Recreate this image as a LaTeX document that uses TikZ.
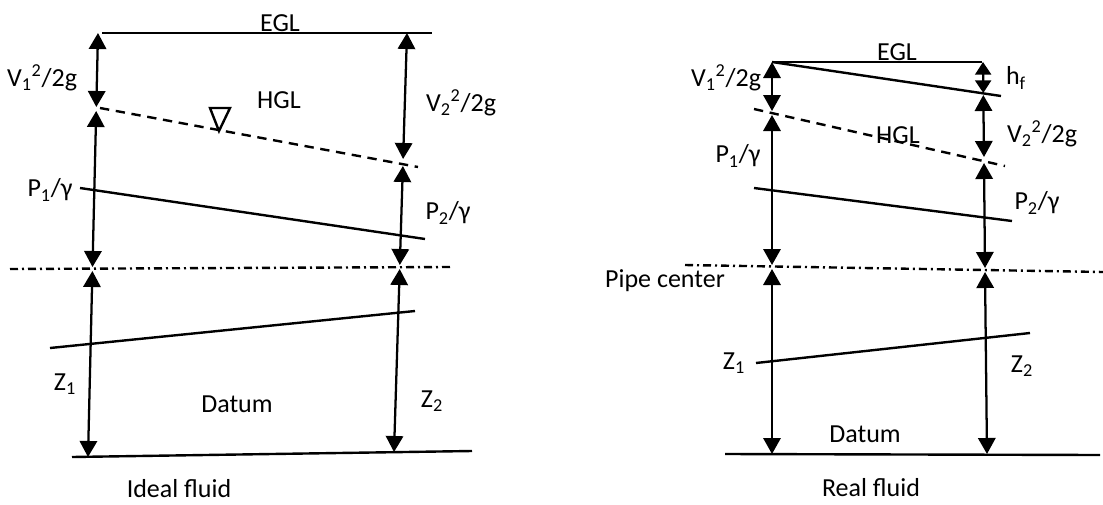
\documentclass[tikz,border=0pt]{standalone}
\usepackage{fontspec}
\setmainfont{Carlito}
\usetikzlibrary{arrows.meta}
\begin{document}
\begin{tikzpicture}[x=0.75pt,y=-0.75pt,
  ln/.style={line width=1.8pt},
  dim/.style={line width=1.7pt,{Triangle[length=12pt,width=13pt]}-{Triangle[length=12pt,width=13pt]}},
  dimsmall/.style={line width=1.7pt,{Triangle[length=9.5pt,width=12pt]}-{Triangle[length=9.5pt,width=12pt]}},
  hgl/.style={line width=1.8pt,dash pattern=on 7pt off 5pt},
  ctr/.style={line width=1.8pt,dash pattern=on 6pt off 3pt on 1.5pt off 3pt},
  lbl/.style={font=\fontsize{19.5}{22}\selectfont,inner sep=0pt}]
\useasboundingbox (0,0) rectangle (1103,504);
% ================= Ideal fluid =================
\coordinate (aE1) at (102,33);  \coordinate (aE2) at (432,33);
\coordinate (aH1) at (100,108); \coordinate (aH2) at (418,167);
\coordinate (aP1) at (80,188);  \coordinate (aP2) at (425,239);
\coordinate (aC1) at (10,269);  \coordinate (aC2) at (450,267);
\coordinate (aB1) at (50,348);  \coordinate (aB2) at (415,311);
\coordinate (aD1) at (72,457);  \coordinate (aD2) at (472,451);
\draw[ln] (aE1) -- (aE2);
\draw[hgl] (aH1) -- (aH2);
\draw[ln] (aP1) -- (aP2);
\draw[ctr] (aC1) -- (aC2);
\draw[ln] (aB1) -- (aB2);
\draw[ln] (aD1) -- (aD2);
\coordinate (t1) at (210,108); \coordinate (t2) at (230,108); \coordinate (t3) at (219,131);
\draw[line width=1.8pt,line join=miter] (t1) -- (t2) -- (t3) -- cycle;
% left column
\coordinate (la1) at (98,33);   \coordinate (la2) at (96.3,107);
\coordinate (la3) at (96.2,111);\coordinate (la4) at (92.5,267);
\coordinate (la5) at (92.4,271);\coordinate (la6) at (88,457);
\draw[dim] (la1) -- (la2);
\draw[dim] (la3) -- (la4);
\draw[dim] (la5) -- (la6);
% right column
\coordinate (ra1) at (407,33);   \coordinate (ra2) at (403.1,159);
\coordinate (ra3) at (402.9,166);\coordinate (ra4) at (399.8,265);
\coordinate (ra5) at (399.7,269);\coordinate (ra6) at (394,452);
\draw[dim] (ra1) -- (ra2);
\draw[dim] (ra3) -- (ra4);
\draw[dim] (ra5) -- (ra6);
% labels
\node[lbl] (aEGL) at (280,23) {EGL};
\node[lbl] (aHGL) at (279,100) {HGL};
\node[lbl] (aV1) at (42,78) {V\textsubscript{1}\textsuperscript{2}/2g};
\node[lbl] (aV2) at (461,103) {V\textsubscript{2}\textsuperscript{2}/2g};
\node[lbl] (aPg1) at (50,190) {P\textsubscript{1}/γ};
\node[lbl] (aPg2) at (448,213) {P\textsubscript{2}/γ};
\node[lbl] (aZ1) at (65,384) {Z\textsubscript{1}};
\node[lbl] (aZ2) at (432,401) {Z\textsubscript{2}};
\node[lbl] (aDat) at (237,404) {Datum};
\node[lbl] (aTit) at (179,489) {Ideal fluid};
% ================= Real fluid =================
\coordinate (bE1) at (772,62);  \coordinate (bE2) at (982,62);
\coordinate (bS2) at (1001,96);
\coordinate (bH1) at (754,109); \coordinate (bH2) at (1005,166);
\coordinate (bP1) at (754,188); \coordinate (bP2) at (1012,221);
\coordinate (bC1) at (685,265); \coordinate (bC2) at (1103,272);
\coordinate (bB1) at (756,363); \coordinate (bB2) at (1030,333);
\coordinate (bD1) at (725,454); \coordinate (bD2) at (1100,455);
\draw[ln] (bE1) -- (bE2);
\draw[ln] (bE1) -- (bS2);
\draw[hgl] (bH1) -- (bH2);
\draw[ln] (bP1) -- (bP2);
\draw[ctr] (bC1) -- (bC2);
\draw[ln] (bB1) -- (bB2);
\draw[ln] (bD1) -- (bD2);
% left column
\coordinate (lb1) at (772,62);  \coordinate (lb2) at (772,111);
\coordinate (lb3) at (772,115); \coordinate (lb4) at (772,265);
\coordinate (lb5) at (772,269); \coordinate (lb6) at (772,454);
\draw[dim] (lb1) -- (lb2);
\draw[dim] (lb3) -- (lb4);
\draw[dim] (lb5) -- (lb6);
% right column
\coordinate (rb1) at (983,62);    \coordinate (rb2) at (983.3,93);
\coordinate (rb3) at (983.3,95);  \coordinate (rb4) at (984,157);
\coordinate (rb5) at (984,163);   \coordinate (rb6) at (985,268);
\coordinate (rb7) at (985,272);   \coordinate (rb8) at (987,454);
\draw[dimsmall] (rb1) -- (rb2);
\draw[dim] (rb3) -- (rb4);
\draw[dim] (rb5) -- (rb6);
\draw[dim] (rb7) -- (rb8);
% labels
\node[lbl] (bEGL) at (897,52) {EGL};
\node[lbl] (bHGL) at (898,135) {HGL};
\node[lbl] (bhf) at (1016,78) {h\textsubscript{f}};
\node[lbl] (bV1) at (726,78) {V\textsubscript{1}\textsuperscript{2}/2g};
\node[lbl] (bV2) at (1042,134) {V\textsubscript{2}\textsuperscript{2}/2g};
\node[lbl] (bPg1) at (738,156) {P\textsubscript{1}/γ};
\node[lbl] (bPg2) at (1037,203) {P\textsubscript{2}/γ};
\node[lbl] (bPC) at (665,281) {Pipe center};
\node[lbl] (bZ1) at (734,363) {Z\textsubscript{1}};
\node[lbl] (bZ2) at (1022,366) {Z\textsubscript{2}};
\node[lbl] (bDat) at (865,434) {Datum};
\node[lbl] (bTit) at (871,488) {Real fluid};
\end{tikzpicture}
\end{document}
